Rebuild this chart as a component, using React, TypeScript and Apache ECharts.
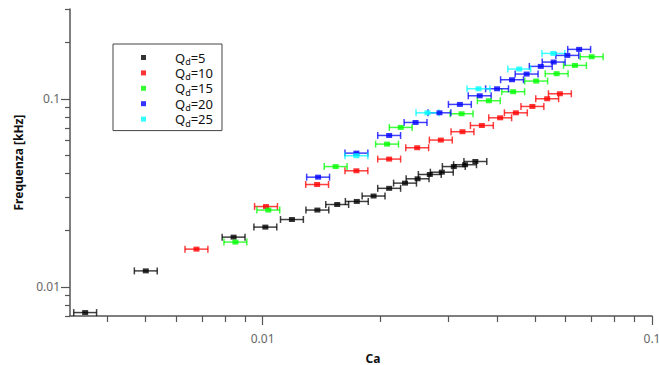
import React, { useEffect, useRef } from 'react';
import * as echarts from 'echarts';

const SERIES_NAMES = ['Qd=5', 'Qd=10', 'Qd=15', 'Qd=20', 'Qd=25'];
const SERIES_COLORS = ['#000000', '#ff0000', '#00ff00', '#0000ff', '#00ffff'];

const CA_QD5 = [0.0035, 0.00501, 0.00842, 0.01016, 0.01189, 0.01382, 0.01554, 0.01745, 0.01927, 0.02113, 0.02321, 0.025, 0.02687, 0.02885, 0.03097, 0.0331, 0.03518];
const F_QD5 = [0.0073, 0.01216, 0.01838, 0.02078, 0.0228, 0.0256, 0.0274, 0.02845, 0.0304, 0.0334, 0.0356, 0.03754, 0.03958, 0.0407, 0.0436, 0.0446, 0.04639];

const CA_QD10 = [0.00676, 0.0102, 0.0138, 0.01741, 0.02113, 0.02494, 0.02868, 0.0326, 0.03656, 0.04074, 0.0447, 0.0493, 0.0538, 0.058];
const F_QD10 = [0.01587, 0.02673, 0.035, 0.0414, 0.04778, 0.0549, 0.0603, 0.0668, 0.0721, 0.0792, 0.0842, 0.091, 0.1, 0.1063];

const CA_QD15 = [0.00851, 0.01034, 0.0154, 0.02087, 0.02263, 0.03243, 0.0381, 0.044, 0.0504, 0.0569, 0.0634, 0.07];
const F_QD15 = [0.0173, 0.0256, 0.0436, 0.0574, 0.0704, 0.0832, 0.0976, 0.109, 0.1242, 0.1359, 0.1504, 0.1673];

const CA_QD20 = [0.01388, 0.01741, 0.02113, 0.0247, 0.02845, 0.0321, 0.0361, 0.04, 0.0437, 0.04764, 0.0518, 0.0559, 0.0606, 0.065];
const F_QD20 = [0.0383, 0.0514, 0.0638, 0.0748, 0.0842, 0.0933, 0.1037, 0.113, 0.1262, 0.1353, 0.1486, 0.1567, 0.17, 0.183];

const CA_QD25 = [0.01741, 0.0265, 0.03584, 0.0456, 0.0558];
const F_QD25 = [0.0498, 0.0842, 0.113, 0.1439, 0.1742];

// relative half-width of the horizontal error bars (~±7 %)
const X_ERR_FACTOR = 1.07;

const X_MIN = 0.0032;
const X_MAX = 0.1;
const Y_MIN = 0.007;
const Y_MAX = 0.3;

const X_TICKS_MINOR = [0.004, 0.005, 0.006, 0.007, 0.008, 0.009, 0.02, 0.03, 0.04, 0.05, 0.06, 0.07, 0.08, 0.09];
const X_TICKS_MAJOR = [0.01, 0.1];
const Y_TICKS_MINOR = [0.007, 0.008, 0.009, 0.02, 0.03, 0.04, 0.05, 0.06, 0.07, 0.08, 0.09, 0.2, 0.3];
const Y_TICKS_MAJOR = [0.01, 0.1];

const CA_SETS = [CA_QD5, CA_QD10, CA_QD15, CA_QD20, CA_QD25];
const F_SETS = [F_QD5, F_QD10, F_QD15, F_QD20, F_QD25];

const FONT = 'Noto Sans';

export default function App() {
  const ref = useRef<HTMLDivElement>(null);

  useEffect(() => {
    document.body.style.margin = '0';
    if (!ref.current) return;
    const chart = echarts.init(ref.current, null, { renderer: 'svg' });

    const errSeries: any[] = [];
    const ptSeries: any[] = [];
    SERIES_NAMES.forEach((name, i) => {
      const ca = CA_SETS[i];
      const f = F_SETS[i];
      const color = SERIES_COLORS[i];
      errSeries.push({
        type: 'custom',
        name: name + '_err',
        xAxisIndex: 0,
        yAxisIndex: 0,
        data: ca.map((x, k) => [x, f[k], x / X_ERR_FACTOR, x * X_ERR_FACTOR]),
        encode: { x: [0, 2, 3], y: 1 },
        z: 2,
        silent: true,
        renderItem: (params: any, api: any) => {
          const y = api.value(1);
          const p1 = api.coord([api.value(2), y]);
          const p2 = api.coord([api.value(3), y]);
          const h = 3.5;
          const st = { stroke: color, lineWidth: 1.5, opacity: 0.75 };
          return {
            type: 'group',
            children: [
              { type: 'line', shape: { x1: p1[0], y1: p1[1], x2: p2[0], y2: p2[1] }, style: st },
              { type: 'line', shape: { x1: p1[0], y1: p1[1] - h, x2: p1[0], y2: p1[1] + h }, style: st },
              { type: 'line', shape: { x1: p2[0], y1: p2[1] - h, x2: p2[0], y2: p2[1] + h }, style: st },
            ],
          };
        },
      });
      ptSeries.push({
        type: 'scatter',
        name,
        xAxisIndex: 0,
        yAxisIndex: 0,
        data: ca.map((x, k) => [x, f[k]]),
        symbol: 'rect',
        symbolSize: [6, 5],
        itemStyle: { color },
        z: 3,
      });
    });

    const tickLabel = { color: '#666', fontFamily: FONT, fontSize: 12 };
    const axisLine = { show: true, lineStyle: { color: '#555', width: 1.5 } };

    chart.setOption({
      animation: false,
      textStyle: { fontFamily: FONT },
      grid: { left: 70, right: 7, top: 9, bottom: 49, containLabel: false, outerBoundsMode: 'none' },
      legend: {
        orient: 'vertical',
        left: 113,
        top: 44,
        data: SERIES_NAMES,
        icon: 'rect',
        itemWidth: 5,
        itemHeight: 5,
        itemGap: 0.4,
        selectedMode: false,
        borderColor: '#444',
        borderWidth: 1,
        padding: [7, 9, 3, 28],
        formatter: (name: string) => `{s| }{q|Q}{d|d}{q|${name.slice(2)}}`,
        textStyle: {
          fontFamily: FONT,
          fontSize: 13,
          color: '#111',
          rich: {
            s: { width: 24, fontSize: 13, lineHeight: 15 },
            q: { fontSize: 13, lineHeight: 15, color: '#111', fontFamily: FONT },
            d: { fontSize: 9, lineHeight: 15, color: '#111', fontFamily: FONT, verticalAlign: 'bottom', padding: [0, 0, -1, 0] },
          },
        },
      },
      xAxis: [
        {
          type: 'log',
          logBase: 10,
          min: X_MIN,
          max: X_MAX,
          name: 'Ca',
          nameLocation: 'middle',
          nameGap: 36,
          nameTextStyle: { fontFamily: FONT, fontSize: 12, lineHeight: 12, fontWeight: 'bold', color: '#111', padding: [0, 0, 0, 24] },
          axisLine,
          splitLine: { show: false },
          axisTick: { show: true, length: 6, customValues: X_TICKS_MINOR, lineStyle: { color: '#555', width: 1.2 } },
          axisLabel: { ...tickLabel, margin: 16, customValues: X_TICKS_MAJOR, formatter: (v: number) => String(v) },
        },
        {
          type: 'log',
          logBase: 10,
          min: X_MIN,
          max: X_MAX,
          position: 'bottom',
          axisLine: { show: false },
          splitLine: { show: false },
          axisTick: { show: true, length: 9, customValues: X_TICKS_MAJOR, lineStyle: { color: '#555', width: 1.2 } },
          axisLabel: { show: false },
        },
      ],
      yAxis: [
        {
          type: 'log',
          logBase: 10,
          min: Y_MIN,
          max: Y_MAX,
          name: 'Frequenza [kHz]',
          nameLocation: 'middle',
          nameGap: 46,
          nameTextStyle: { fontFamily: FONT, fontSize: 12, fontWeight: 'bold', color: '#111' },
          axisLine,
          splitLine: { show: false },
          axisTick: { show: true, length: 5, customValues: Y_TICKS_MINOR, lineStyle: { color: '#555', width: 1.2 } },
          axisLabel: { ...tickLabel, margin: 10, customValues: Y_TICKS_MAJOR, formatter: (v: number) => String(v) },
        },
        {
          type: 'log',
          logBase: 10,
          min: Y_MIN,
          max: Y_MAX,
          position: 'left',
          axisLine: { show: false },
          splitLine: { show: false },
          axisTick: { show: true, length: 9, customValues: Y_TICKS_MAJOR, lineStyle: { color: '#555', width: 1.2 } },
          axisLabel: { show: false },
        },
      ],
      series: [...errSeries, ...ptSeries],
    });

    return () => chart.dispose();
  }, []);

  return <div ref={ref} style={{ width: 659, height: 365 }} />;
}
